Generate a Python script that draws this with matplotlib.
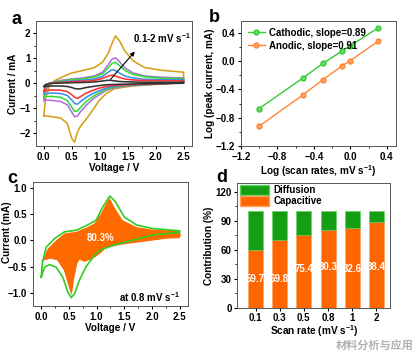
import numpy as np
import matplotlib
matplotlib.use("Agg")
import matplotlib.pyplot as plt
from matplotlib.patches import Patch

plt.rcParams['font.family'] = ['Liberation Sans', 'DejaVu Sans', 'Noto Sans CJK SC']
plt.rcParams['mathtext.default'] = 'regular'
plt.rcParams['font.weight'] = 'bold'
plt.rcParams['axes.labelweight'] = 'bold'
plt.rcParams['font.size'] = 7
plt.rcParams['xtick.major.size'] = 2.5
plt.rcParams['ytick.major.size'] = 2.5
plt.rcParams['xtick.minor.size'] = 1.5
plt.rcParams['ytick.minor.size'] = 1.5
plt.rcParams['axes.linewidth'] = 0.7

# ---- (a) CV curves at different scan rates ----
v_fwd = [0.0, 0.03, 0.1, 0.2, 0.35, 0.5, 0.7, 0.9, 1.05, 1.15, 1.22, 1.28, 1.35, 1.45, 1.6, 1.8, 2.1, 2.5]
v_rev = [2.5, 2.2, 1.9, 1.6, 1.4, 1.25, 1.12, 1.0, 0.88, 0.76, 0.66, 0.6, 0.55, 0.5, 0.42, 0.3, 0.15, 0.05, 0.0]

i_fwd_01 = [-0.12, -0.04, 0.0, 0.01, 0.02, 0.03, 0.04, 0.06, 0.1, 0.13, 0.12, 0.1, 0.08, 0.07, 0.06, 0.05, 0.05, 0.05]
i_rev_01 = [0.01, 0.0, -0.01, -0.02, -0.03, -0.04, -0.05, -0.08, -0.12, -0.16, -0.21, -0.22, -0.2, -0.16, -0.12, -0.1, -0.1, -0.11, -0.12]
i_fwd_03 = [-0.3, -0.1, 0.0, 0.03, 0.05, 0.07, 0.09, 0.12, 0.2, 0.3, 0.33, 0.3, 0.24, 0.18, 0.14, 0.12, 0.11, 0.11]
i_rev_03 = [0.02, 0.0, -0.02, -0.04, -0.06, -0.08, -0.12, -0.18, -0.27, -0.38, -0.52, -0.6, -0.55, -0.45, -0.32, -0.27, -0.26, -0.28, -0.3]
i_fwd_05 = [-0.42, -0.15, 0.0, 0.04, 0.08, 0.1, 0.13, 0.18, 0.28, 0.45, 0.55, 0.52, 0.42, 0.3, 0.22, 0.17, 0.15, 0.15]
i_rev_05 = [0.03, 0.0, -0.03, -0.05, -0.08, -0.12, -0.18, -0.28, -0.4, -0.55, -0.72, -0.83, -0.8, -0.66, -0.48, -0.4, -0.38, -0.4, -0.42]
i_fwd_08 = [-0.55, -0.2, -0.02, 0.06, 0.12, 0.15, 0.18, 0.26, 0.38, 0.62, 0.8, 0.85, 0.72, 0.52, 0.36, 0.27, 0.21, 0.19]
i_rev_08 = [0.04, 0.0, -0.03, -0.06, -0.1, -0.15, -0.22, -0.36, -0.52, -0.72, -0.95, -1.1, -1.12, -0.95, -0.68, -0.55, -0.52, -0.52, -0.55]
i_fwd_1 = [-0.68, -0.28, -0.02, 0.08, 0.14, 0.18, 0.22, 0.3, 0.45, 0.75, 0.97, 1.03, 0.88, 0.62, 0.42, 0.3, 0.25, 0.22]
i_rev_1 = [0.05, 0.0, -0.04, -0.08, -0.12, -0.18, -0.27, -0.44, -0.62, -0.87, -1.12, -1.3, -1.33, -1.15, -0.85, -0.72, -0.68, -0.66, -0.68]
i_fwd_2 = [-1.3, -0.6, -0.1, 0.12, 0.28, 0.42, 0.52, 0.63, 0.85, 1.2, 1.6, 1.9, 1.72, 1.3, 0.9, 0.64, 0.53, 0.45]
i_rev_2 = [0.04, 0.0, -0.05, -0.1, -0.16, -0.22, -0.4, -0.65, -1.05, -1.42, -1.7, -1.95, -2.35, -2.2, -1.6, -1.38, -1.33, -1.3, -1.3]

# ---- (b) log peak current vs log scan rate ----
log_rate = [-1.0, -0.523, -0.301, -0.097, 0.0, 0.301]
log_cath = [-0.67, -0.24, -0.03, 0.14, 0.22, 0.47]
log_anod = [-0.92, -0.48, -0.26, -0.07, 0.01, 0.28]

# ---- (c) capacitive contribution at 0.8 mV/s ----
c_v_total = [0.0, 0.02, 0.09, 0.24, 0.42, 0.63, 0.84, 0.99, 1.11, 1.24, 1.34, 1.5, 1.72, 2.02, 2.5, 2.5,
             2.02, 1.65, 1.35, 1.05, 0.96, 0.81, 0.69, 0.6, 0.54, 0.48, 0.39, 0.27, 0.15, 0.06, 0.0]
c_i_total = [-0.7, -0.44, -0.13, 0.03, 0.16, 0.19, 0.29, 0.38, 0.63, 0.84, 0.73, 0.44, 0.29, 0.22, 0.18, 0.15,
             0.1, 0.0, -0.08, -0.19, -0.29, -0.5, -0.76, -1.02, -1.09, -0.98, -0.7, -0.51, -0.46, -0.51, -0.7]
c_v_cap = [0.0, 0.12, 0.24, 0.42, 0.63, 0.84, 0.96, 1.08, 1.23, 1.32, 1.47, 1.72, 2.02, 2.5, 2.52, 2.5,
           2.26, 1.84, 1.47, 1.17, 1.1, 0.98, 0.86, 0.78, 0.69, 0.65, 0.59, 0.55, 0.5, 0.41, 0.29, 0.17, 0.05, 0.0]
c_i_cap = [-0.41, -0.16, -0.03, 0.13, 0.16, 0.25, 0.32, 0.51, 0.81, 0.63, 0.38, 0.25, 0.2, 0.18, 0.1, 0.04,
           0.03, -0.03, -0.08, -0.14, -0.22, -0.32, -0.38, -0.41, -0.37, -0.45, -0.76, -1.05, -0.89, -0.57, -0.38, -0.35, -0.38, -0.41]

# ---- (d) contribution bars ----
rates = ['0.1', '0.3', '0.5', '0.8', '1', '2']
capacitive = [59.7, 69.8, 75.4, 80.3, 82.6, 88.4]
total = [100, 100, 100, 100, 100, 100]
label_y = [30, 30, 40, 42, 40, 42]

fig = plt.figure(figsize=(4.16, 3.56), dpi=100)

# (a)
ax1 = fig.add_axes([0.0865, 0.590, 0.375, 0.351])
curves = [(i_fwd_01, i_rev_01, '#333333'), (i_fwd_03, i_rev_03, '#ff3333'),
          (i_fwd_05, i_rev_05, '#3f8fe8'), (i_fwd_08, i_rev_08, '#33dd33'),
          (i_fwd_1, i_rev_1, '#b070e0'), (i_fwd_2, i_rev_2, '#d4a017')]
for fwd, rev, col in curves[::-1]:
    ax1.plot(v_fwd + v_rev, fwd + rev, color=col, lw=1.15)
ax1.annotate('', xy=(1.66, 1.36), xytext=(1.16, 0.08),
             arrowprops=dict(arrowstyle='-|>', color='black', lw=0.8, mutation_scale=6))
ax1.text(1.6, 1.62, '0.1-2 mV s$^{-1}$', fontsize=7, fontweight='bold')
ax1.set_xlim(-0.14, 2.65)
ax1.set_ylim(-2.5, 2.5)
ax1.set_xticks([0.0, 0.5, 1.0, 1.5, 2.0, 2.5])
ax1.set_xticks(np.arange(0.25, 2.5, 0.5), minor=True)
ax1.set_yticks([-2, -1, 0, 1, 2])
ax1.set_yticks([-1.5, -0.5, 0.5, 1.5], minor=True)
ax1.set_xlabel('Voltage / V', labelpad=1, fontsize=7.2)
ax1.set_ylabel('Current / mA', labelpad=1, fontsize=7.2)

# (b)
ax2 = fig.add_axes([0.579, 0.590, 0.373, 0.351])
ax2.plot(log_rate, log_cath, '-o', color='#33cc33', ms=3.5, lw=1,
         mfc='#66dd66', mec='#33cc33', label='Cathodic, slope=0.89')
ax2.plot(log_rate, log_anod, '-o', color='#ff8533', ms=3.5, lw=1,
         mfc='#ffa366', mec='#ff8533', label='Anodic, slope=0.91')
ax2.legend(loc='upper left', frameon=False, handlelength=1.8, handletextpad=0.4,
           borderaxespad=0.3, labelspacing=0.3, prop={'weight': 'bold', 'size': 7})
ax2.set_xlim(-1.2, 0.5)
ax2.set_ylim(-1.2, 0.57)
ax2.set_xticks([-1.2, -0.8, -0.4, 0.0, 0.4])
ax2.set_xticks([-1.0, -0.6, -0.2, 0.2], minor=True)
ax2.set_yticks([-1.2, -0.8, -0.4, 0.0, 0.4])
ax2.set_yticks([-1.0, -0.6, -0.2, 0.2], minor=True)
ax2.set_xlabel('Log (scan rates, mV s$^{-1}$)', labelpad=1, fontsize=7.2)
ax2.set_ylabel('Log (peak current, mA)', labelpad=1, fontsize=7.2)

# (c)
ax3 = fig.add_axes([0.079, 0.140, 0.373, 0.348])
ax3.fill(c_v_cap, c_i_cap, color='#ff6a00', lw=0)
ax3.plot(c_v_total, c_i_total, color='#33cc22', lw=1.2)
ax3.text(1.08, 0.05, '80.3%', color='white', ha='center', va='center', fontsize=7, fontweight='bold')
ax3.text(2.5, -1.08, 'at 0.8 mV s$^{-1}$', ha='right', va='center', fontsize=7, fontweight='bold')
ax3.set_xlim(-0.15, 2.65)
ax3.set_ylim(-1.25, 1.1)
ax3.set_xticks([0.0, 0.5, 1.0, 1.5, 2.0, 2.5])
ax3.set_xticks(np.arange(0.25, 2.5, 0.5), minor=True)
ax3.set_yticks([-1.0, -0.5, 0.0, 0.5, 1.0])
ax3.set_xlabel('Voltage / V', labelpad=1, fontsize=7.2)
ax3.set_ylabel('Current (mA)', fontsize=7.2)
ax3.yaxis.set_label_coords(-0.135, 0.6)

# (d)
ax4 = fig.add_axes([0.570, 0.135, 0.368, 0.351])
x = np.arange(len(rates))
diffusion = [t - c for t, c in zip(total, capacitive)]
ax4.bar(x, capacitive, width=0.62, color='#ff6600', edgecolor='#ffa060', lw=0.4)
ax4.bar(x, diffusion, width=0.62, bottom=capacitive, color='#139e13', edgecolor='#60d060', lw=0.4)
for xi, c, ly in zip(x, capacitive, label_y):
    ax4.text(xi, ly, f'{c:.1f}', color='white', ha='center', va='center', fontsize=7, fontweight='bold')
ax4.legend(handles=[Patch(facecolor='#139e13', edgecolor='#60d060', label='Diffusion'),
                    Patch(facecolor='#ff6600', edgecolor='#ffa060', label='Capacitive')],
           loc='upper left', bbox_to_anchor=(0.0, 1.0), frameon=False,
           handlelength=3.0, handleheight=1.1, handletextpad=0.5,
           borderaxespad=0.15, borderpad=0.1, labelspacing=0.1,
           prop={'weight': 'bold', 'size': 7})
ax4.set_xlim(-0.76, 5.57)
ax4.set_ylim(0, 129)
ax4.set_xticks(x)
ax4.set_xticklabels(rates)
ax4.set_yticks([0, 30, 60, 90, 120])
ax4.set_yticks([15, 45, 75, 105], minor=True)
ax4.set_xlabel('Scan rate (mV s$^{-1}$)', labelpad=0, fontsize=7.2)
ax4.set_ylabel('Contribution (%)', labelpad=1, fontsize=7.2)

for ax in (ax1, ax2, ax3, ax4):
    ax.tick_params(labelsize=7, pad=1.5)
    for sp in ax.spines.values():
        sp.set_color('#555555')

fig.text(11 / 416, 1 - 20 / 356, 'a', fontsize=13, fontweight='bold', va='center')
fig.text(209 / 416, 1 - 18 / 356, 'b', fontsize=13, fontweight='bold', va='center')
fig.text(7 / 416, 1 - 179 / 356, 'c', fontsize=13, fontweight='bold', va='center')
fig.text(216 / 416, 1 - 178 / 356, 'd', fontsize=13, fontweight='bold', va='center')
fig.text(336 / 416, 1 - 345 / 356, '材料分析与应用', color='#b0b0b0', fontsize=8, va='center')

fig.savefig('out.png', dpi=100)
